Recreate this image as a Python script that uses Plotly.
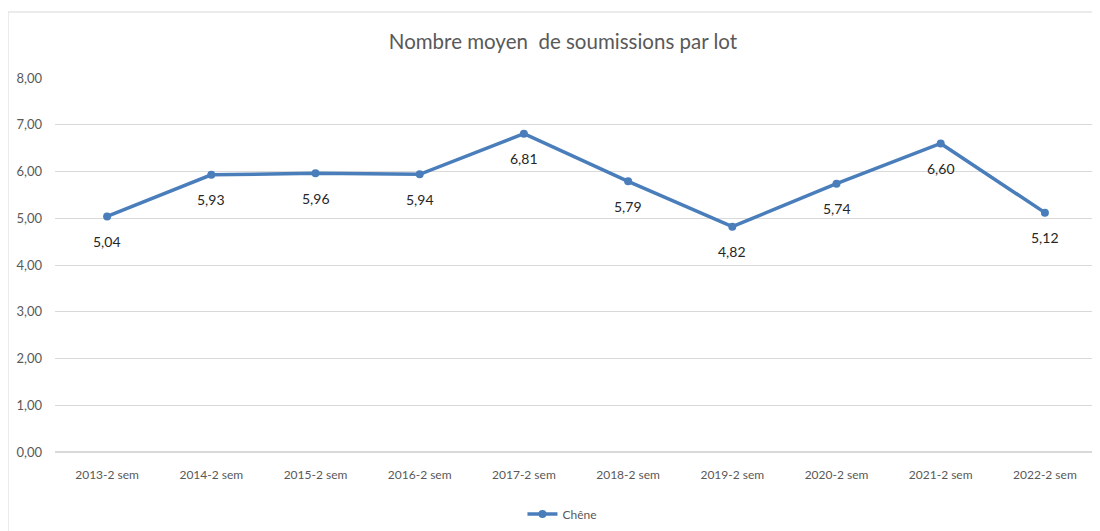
import plotly.graph_objects as go

categories = ["2013-2 sem", "2014-2 sem", "2015-2 sem", "2016-2 sem", "2017-2 sem",
              "2018-2 sem", "2019-2 sem", "2020-2 sem", "2021-2 sem", "2022-2 sem"]
values = [5.04, 5.93, 5.96, 5.94, 6.81, 5.79, 4.82, 5.74, 6.60, 5.12]
series_name = "Chêne"
title = "Nombre moyen  de soumissions par lot"

FONT = "Lato"
line_color = "#4a7ebb"

W, H = 1092, 523

fig = go.Figure()
fig.add_trace(go.Scatter(
    x=categories, y=values, mode="lines+markers", name=series_name,
    line=dict(color=line_color, width=3.5),
    marker=dict(color=line_color, size=8),
))

for c, v in zip(categories, values):
    fig.add_annotation(x=c, y=v, text=f"{v:.2f}".replace(".", ","),
                       showarrow=False, yshift=-25,
                       font=dict(family=FONT, size=14, color="#262626"))

fig.add_shape(type="rect", xref="paper", yref="paper",
              x0=-0.0451, x1=1.05, y0=-0.3, y1=1.1765,
              line=dict(color="#d9d9d9", width=1), fillcolor="rgba(0,0,0,0)", layer="below")

fig.update_layout(
    width=W, height=H,
    margin=dict(l=47, r=3, t=70, b=79, autoexpand=False),
    paper_bgcolor="white", plot_bgcolor="white",
    separators=", ",
    title=dict(text=title, x=0.4875, xref="paper", xanchor="center", y=1 - 34/H, yanchor="middle",
               font=dict(family=FONT, size=20.5, color="#595959")),
    showlegend=True,
    legend=dict(orientation="h", x=0.487, xanchor="center", y=-0.166, yanchor="middle",
                font=dict(family=FONT, size=12, color="#595959")),
    xaxis=dict(type="category", range=[-0.5, len(categories) - 0.5],
               showgrid=False, showline=False, ticks="", automargin=False,
               tickfont=dict(family=FONT, size=12, color="#595959"), ticklabelstandoff=14),
    yaxis=dict(range=[0, 8], dtick=1, tickformat=".2f", showgrid=True, gridcolor="#d9d9d9",
               gridwidth=1, zeroline=True, zerolinecolor="#d9d9d9", showline=False, ticks="",
               automargin=False,
               tickfont=dict(family=FONT, size=13, color="#595959"), ticklabelstandoff=12),
)

fig.write_html("out.html")
